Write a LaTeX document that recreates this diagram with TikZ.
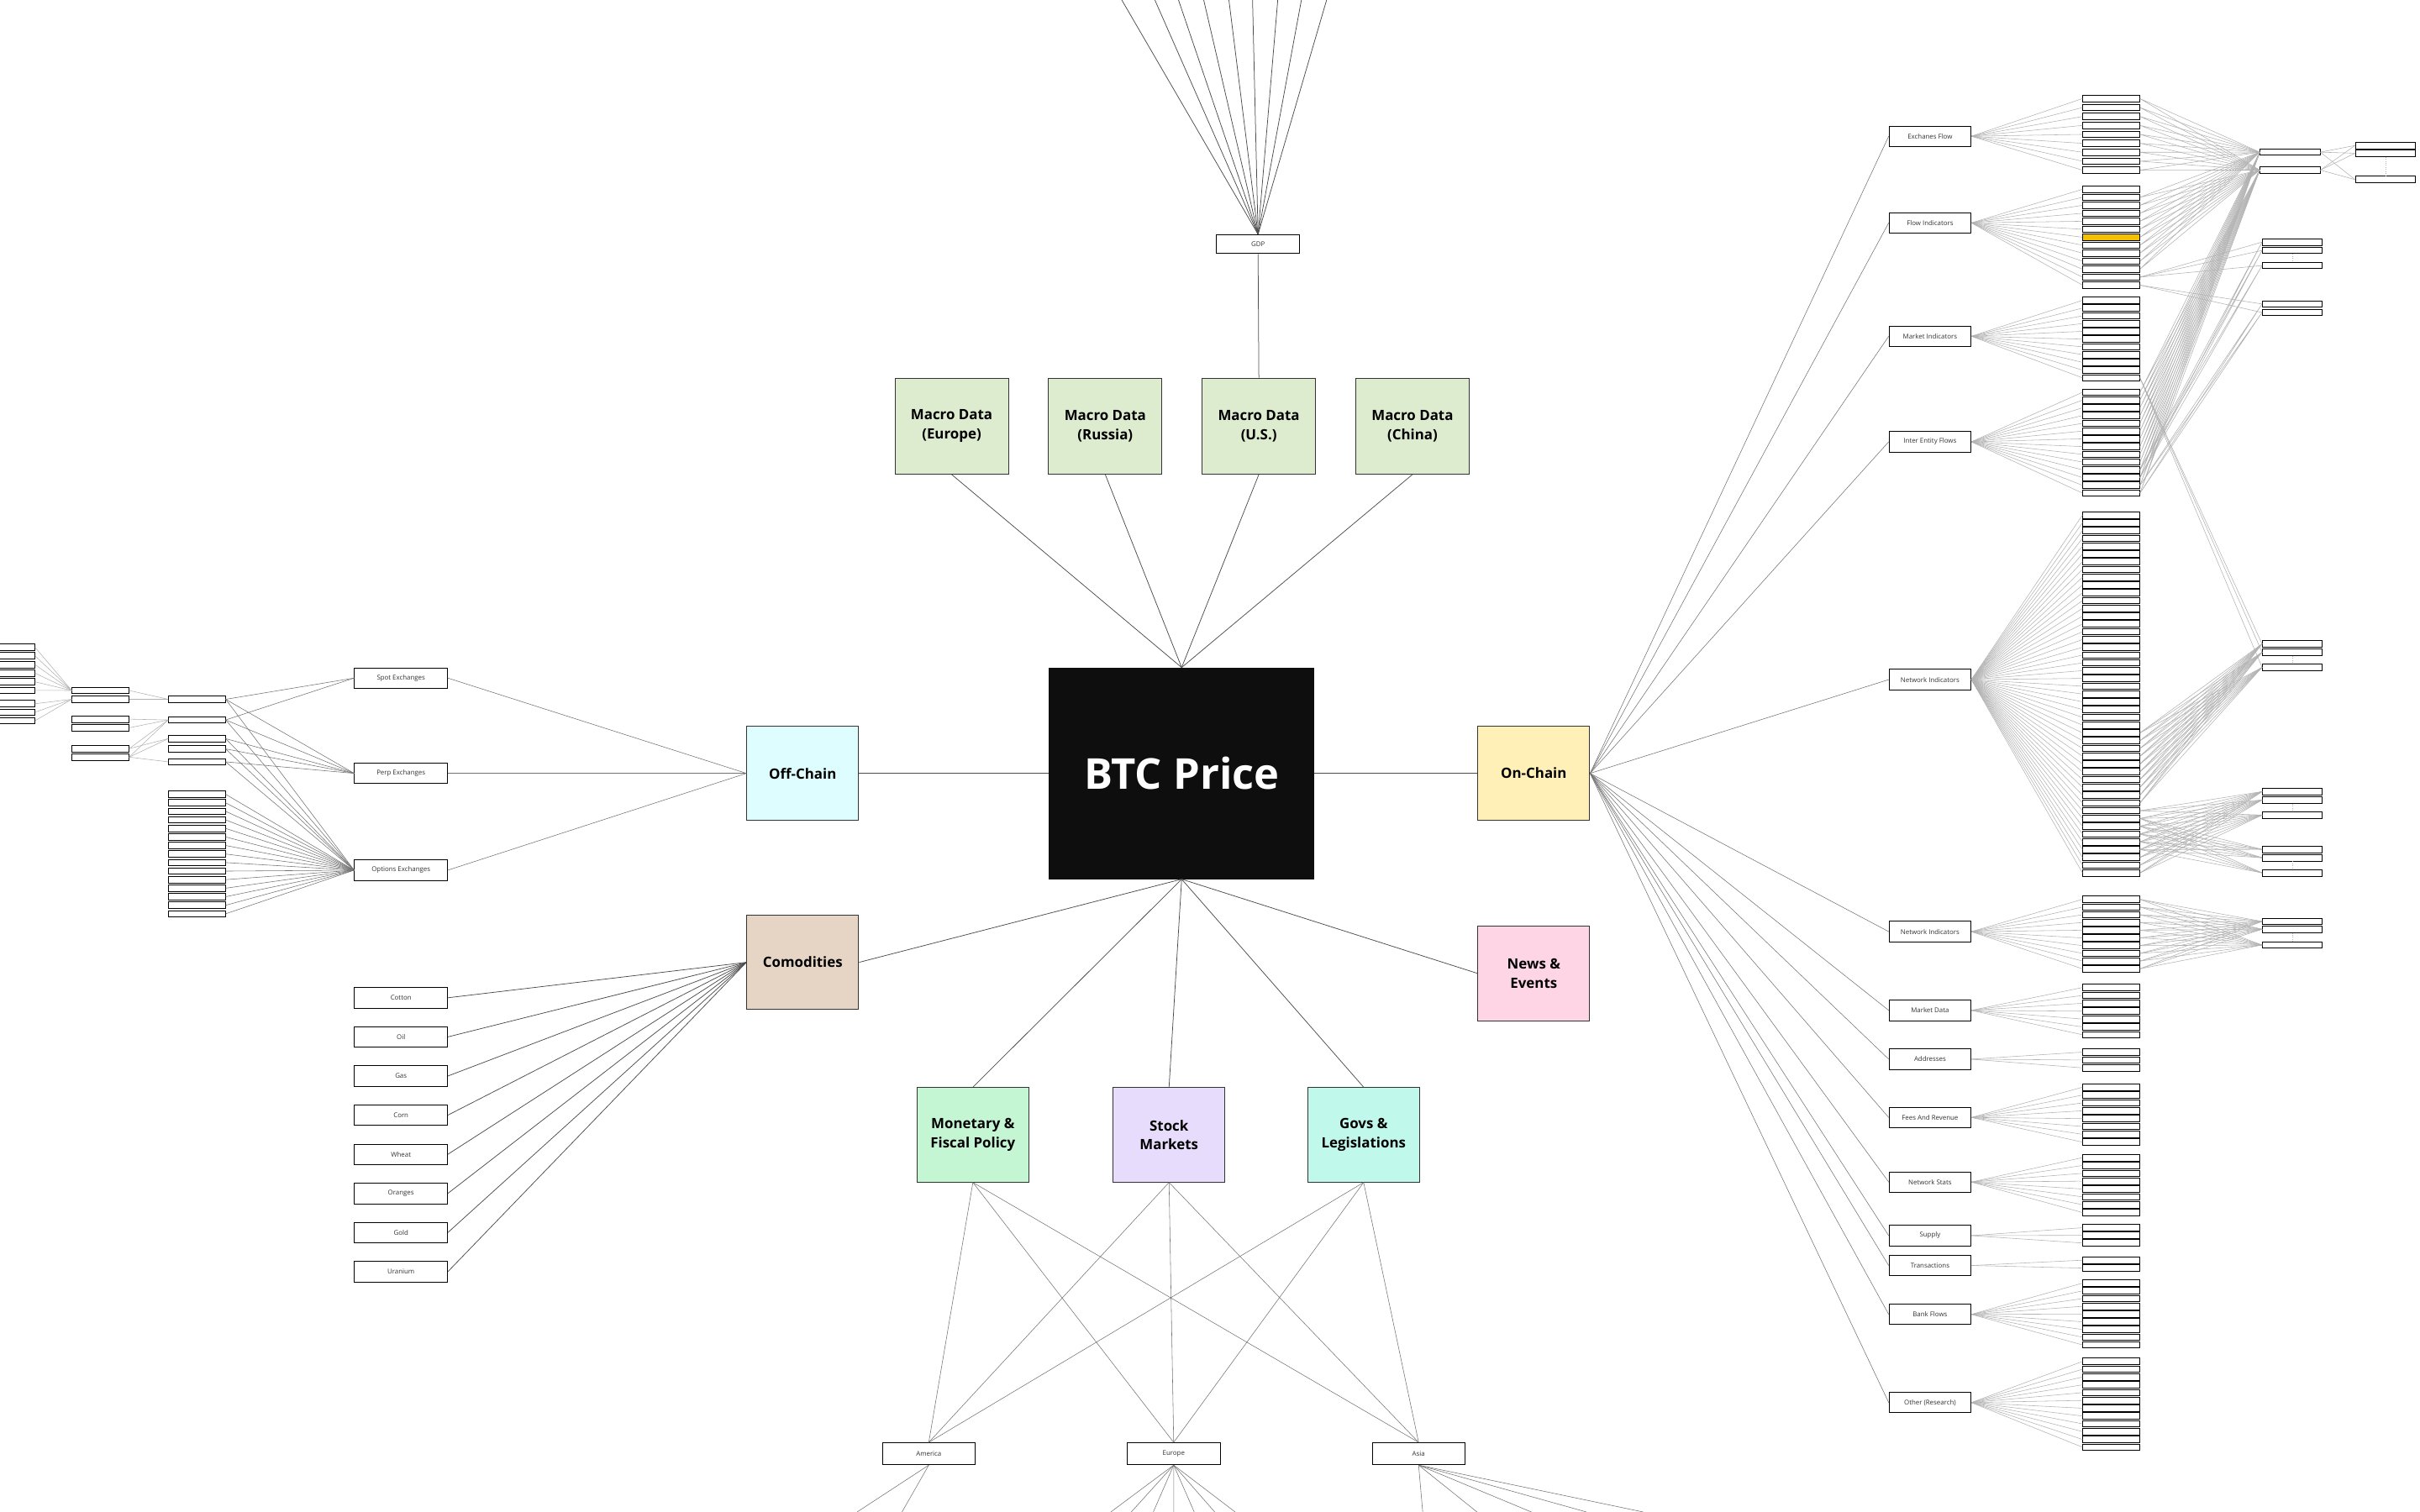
\documentclass[tikz,border=0pt]{standalone}
\usepackage{fontspec}
\setmainfont{Open Sans}
\usetikzlibrary{positioning}
\definecolor{macrogreen}{RGB}{221,235,207}
\definecolor{offcyan}{RGB}{221,253,254}
\definecolor{onyellow}{RGB}{255,240,184}
\definecolor{commtan}{RGB}{230,213,196}
\definecolor{newspink}{RGB}{253,213,229}
\definecolor{monetgreen}{RGB}{196,246,212}
\definecolor{stocklav}{RGB}{232,220,252}
\definecolor{govsmint}{RGB}{192,248,236}
\definecolor{hilite}{RGB}{245,192,0}
\definecolor{btcblack}{RGB}{14,14,14}

\begin{document}
\begin{tikzpicture}[x=1pt, y=-1pt, node distance=25pt]
  \tikzstyle{cat} = [draw=black!80, line width=0.5pt, minimum width=71pt, minimum height=60pt, inner sep=0pt, align=center, font=\fontsize{9}{12}\selectfont\bfseries]
  \tikzstyle{macro} = [cat, fill=macrogreen, minimum width=72pt, minimum height=61pt]
  \tikzstyle{item} = [draw, fill=white, line width=0.45pt, minimum width=59pt, minimum height=13pt, inner sep=0pt, text=black!80, font=\fontsize{4.2}{5}\selectfont]
  \tikzstyle{ritem} = [item, minimum width=52pt]
  \tikzstyle{leaf} = [draw, fill=white, line width=0.5pt, minimum width=36pt, minimum height=4.1pt, inner sep=0pt]
  \tikzstyle{leafw} = [leaf, minimum width=38pt]
  \tikzstyle{link} = [draw=black!70, line width=0.4pt]
  \tikzstyle{wire} = [draw=black!55, line width=0.3pt]
  \tikzstyle{fan} = [draw=black!30, line width=0.3pt]
  \useasboundingbox (0,0) rectangle (1536,960);

  \node [draw=btcblack, fill=btcblack, minimum width=168pt, minimum height=134pt, text=white, font=\fontsize{27}{30}\selectfont\bfseries] (btc) at (750,491) {BTC Price};

  \node [macro] (macrous) at (799,270.5) {Macro Data\\(U.S.)};
  \node [macro, left=of macrous] (macroru) {Macro Data\\(Russia)};
  \node [macro, left=of macroru] (macroeu) {Macro Data\\(Europe)};
  \node [macro, right=of macrous] (macrocn) {Macro Data\\(China)};
  \node [item, minimum width=53pt, minimum height=12pt] (gdp) at (798.5,155) {GDP};

  \node [cat, fill=offcyan] (offchain) at (509.5,491) {Off-Chain};
  \node [cat, fill=onyellow] (onchain) at (973.5,491) {On-Chain};
  \node [cat, fill=commtan] (comm) at (509.5,611) {Comodities};
  \node [cat, fill=newspink] (news) at (973.5,618) {News \&\\Events};
  \node [cat, fill=monetgreen] (monetary) at (617.5,720.5) {Monetary \&\\Fiscal Policy};
  \node [cat, fill=stocklav, right=53pt of monetary] (stock) {Stock\\Markets};
  \node [cat, fill=govsmint, right=52pt of stock] (govs) {Govs \&\\Legislations};

  \node [item, minimum height=14pt] (america) at (589.5,923) {America};
  \node [item, minimum height=14pt, right=96pt of america] (europe) {Europe};
  \node [item, minimum height=14pt, right=96pt of europe] (asia) {Asia};

  \node [item] (spot) at (254.5,430.5) {Spot Exchanges};
  \node [item] (perp) at (254.5,491) {Perp Exchanges};
  \node [item] (options) at (254.5,552.5) {Options Exchanges};
  \foreach \name [count=\i] in {Cotton,Oil,Gas,Corn,Wheat,Oranges,Gold,Uranium}
    \node [item] (good\i) at (254.5,{633.5+24.85*(\i-1)}) {\name};

  \foreach \y [count=\i] in {411,416.4,422,427.4,432.9,438.3,446.8,452.2,457.6}
    \node [leaf] (la\i) at (4,\y) {};
  \foreach \y [count=\i] in {438.4,444,456.6,462.1,475.3,480.7}
    \node [leaf] (lb\i) at (63.75,\y) {};
  \foreach \y [count=\i] in {444,457.1,469,475.5,483.7}
    \node [leaf] (lc\i) at (125,\y) {};
  \foreach \i in {1,...,15}
    \node [leaf] (ld\i) at (125,{504.3+5.42*(\i-1)}) {};

  \foreach \name/\y/\txt in {exflow/86.5/Exchanes Flow, flowind/141.5/Flow Indicators, mktind/213.5/Market Indicators, interent/280.5/Inter Entity Flows, netind/431.5/Network Indicators, netindb/591.5/Network Indicators, mktdata/641.5/Market Data, addr/672.5/Addresses, fees/709.5/Fees And Revenue, netstats/750.5/Network Stats, supply/784.5/Supply, trans/803.5/Transactions, bank/834.5/Bank Flows, other/890.5/Other (Research)}
    \node [ritem] (\name) at (1225,\y) {\txt};

  \foreach \grp/\src/\n/\y/\dy in {ef/exflow/9/62.6/5.68, fi/flowind/13/120.2/5.07, mi/mktind/11/190.7/4.92, ie/interent/14/249.1/4.92, ni/netind/47/327/4.94, nj/netindb/10/571/4.9, md/mktdata/7/627/5, ad/addr/3/668/5, fr/fees/8/690.3/4.98, ns/netstats/8/735/4.98, su/supply/3/779.5/4.85, tr/trans/2/800.1/5, bf/bank/9/814.7/4.9, ot/other/12/864.4/4.95}
    \foreach \i in {1,...,\n} {
      \node [leaf] (\grp\i) at (1340,{\y+\dy*(\i-1)}) {};
      \draw [fan] (\src.east) -- (\grp\i.west);
    }
  \node [leaf, fill=hilite] at (fi7) {};

  \node [leafw] (xa) at (1453.5,96.6) {};
  \node [leafw] (xb) at (1453.5,108) {};
  \foreach \i/\y in {1/92.4,2/97.3,3/114} \node [leafw] (za\i) at (1514,\y) {};
  \foreach \i/\y in {1/153.7,2/159,3/168.6} \node [leafw] (ta\i) at (1455,\y) {};
  \foreach \i/\y in {1/193,2/198.4} \node [leafw] (pa\i) at (1455,\y) {};
  \foreach \i/\y in {1/408.8,2/414.1,3/423.7} \node [leafw] (qa\i) at (1455,\y) {};
  \foreach \i/\y in {1/502.6,2/507.9,3/517.5} \node [leafw] (qb\i) at (1455,\y) {};
  \foreach \i/\y in {1/539.3,2/544.6,3/554.2} \node [leafw] (qc\i) at (1455,\y) {};
  \foreach \i/\y in {1/585,2/590,3/600} \node [leafw] (qd\i) at (1455,\y) {};
  \foreach \g in {za,ta,qa,qb,qc,qd} \draw [fan, densely dotted] (\g2.south) -- (\g3.north);

  \foreach \i in {1,...,9} \draw [fan] (ef\i.east) -- (xa.west) (ef\i.east) -- (xb.west);
  \foreach \i in {2,...,11} \draw [fan] (fi\i.east) -- (xa.west) (fi\i.east) -- (xb.west);
  \foreach \i in {1,...,14} \draw [fan] (ie\i.east) -- (xa.west) (ie\i.east) -- (xb.west);
  \foreach \a in {xa,xb} \foreach \b in {1,2,3} \draw [fan] (\a.east) -- (za\b.west);
  \foreach \b in {1,2,3} \draw [fan] (fi12.east) -- (ta\b.west) (ie11.east) -- (ta\b.west) (ie12.east) -- (ta\b.west) (mi11.east) -- (qa\b.west);
  \foreach \b in {1,2} \draw [fan] (fi13.east) -- (pa\b.west) (ie13.east) -- (pa\b.west) (ie14.east) -- (pa\b.west);
  \foreach \i in {29,...,38} \foreach \b in {1,2,3} \draw [fan] (ni\i.east) -- (qa\b.west);
  \foreach \i in {39,...,47} \foreach \b in {1,2,3} \draw [fan] (ni\i.east) -- (qb\b.west);
  \foreach \i in {40,...,44} \foreach \b in {1,2,3} \draw [fan] (ni\i.east) -- (qc\b.west);
  \foreach \i in {1,...,10} \foreach \b in {1,2,3} \draw [fan] (nj\i.east) -- (qd\b.west);

  \foreach \i in {1,...,6} \draw [fan] (la\i.east) -- (lb1.west);
  \foreach \i in {7,8,9} \draw [fan] (la\i.east) -- (lb2.west);
  \foreach \a/\b in {lb1/lc1, lb2/lc1, lb3/lc2, lb4/lc2, lb5/lc2, lb5/lc3, lb6/lc2, lb6/lc3, lb6/lc5}
    \draw [fan] (\a.east) -- (\b.west);
  \foreach \a/\b in {lc1/spot, lc2/spot, lc1/perp, lc2/perp, lc3/perp, lc4/perp, lc5/perp, lc1/options, lc2/options, lc3/options, lc4/options, lc5/options}
    \draw [wire] (\a.east) -- (\b.west);
  \foreach \i in {1,...,15} \draw [wire] (ld\i.east) -- (options.west);
  \foreach \n in {spot,perp,options} \draw [wire] (\n.east) -- (offchain.west);
  \foreach \i in {1,...,8} \draw [link] (good\i.east) -- (comm.west);

  \draw [link] (btc.west) -- (offchain.east);
  \draw [link] (btc.east) -- (onchain.west);
  \foreach \n in {macroeu,macroru,macrous,macrocn} \draw [link] (\n.south) -- (btc.north);
  \draw [link] (gdp.south) -- (macrous.north);
  \draw [link] (btc.south) -- (comm.east);
  \draw [link] (btc.south) -- (news.west);
  \foreach \n in {monetary,stock,govs} \draw [link] (btc.south) -- (\n.north);
  \foreach \n in {exflow,flowind,mktind,interent,netind,netindb,mktdata,addr,fees,netstats,supply,trans,bank,other}
    \draw [wire] (onchain.east) -- (\n.west);

  \foreach \x [count=\k] in {712,733,748,764,780,795,811,826,842} {
    \coordinate (gtop\k) at (\x,0);
    \draw [link] (gtop\k) -- (gdp.north);
  }
  \foreach \s in {monetary,stock,govs} \foreach \t in {america,europe,asia}
    \draw [wire] (\s.south) -- (\t.north);
  \foreach \x [count=\k] in {544,572.5} {
    \coordinate (amend\k) at (\x,960);
    \draw [wire] (america.south) -- (amend\k);
  }
  \foreach \x [count=\k] in {705,718,732,745,758,771,784} {
    \coordinate (euend\k) at (\x,960);
    \draw [wire] (europe.south) -- (euend\k);
  }
  \foreach \x [count=\k] in {903,937.5,972,1007,1043} {
    \coordinate (asend\k) at (\x,960);
    \draw [wire] (asia.south) -- (asend\k);
  }
\end{tikzpicture}
\end{document}
